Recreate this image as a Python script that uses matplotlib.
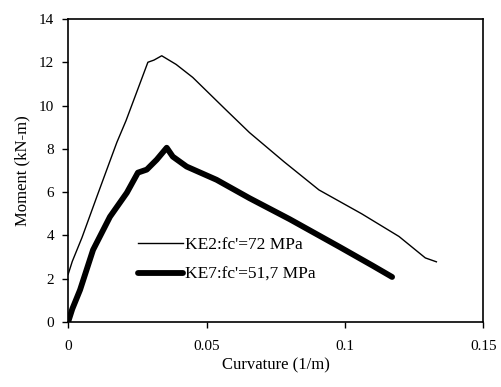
import matplotlib.pyplot as plt

plt.rcParams['font.family'] = ['Liberation Serif', 'DejaVu Serif']

# KE2: fc'=72 MPa (thin line)
ke2_curv = [0.0, 0.0015, 0.0050, 0.0104, 0.0150, 0.0176, 0.0209, 0.0250, 0.0288,
            0.0310, 0.0338, 0.0390, 0.0450, 0.0570, 0.0655, 0.0780, 0.0906,
            0.1060, 0.1195, 0.1290, 0.1330]
ke2_mom = [2.2, 2.8, 3.9, 5.8, 7.4, 8.3, 9.3, 10.7, 12.0,
           12.1, 12.3, 11.9, 11.3, 9.8, 8.75, 7.4, 6.1,
           5.0, 3.95, 2.96, 2.78]

# KE7: fc'=51,7 MPa (thick line)
ke7_curv = [0.0, 0.0015, 0.0043, 0.0090, 0.0151, 0.0212, 0.0252, 0.0284,
            0.0320, 0.0356, 0.0378, 0.0428, 0.0536, 0.0655, 0.0800,
            0.0980, 0.1100, 0.1170]
ke7_mom = [0.0, 0.6, 1.48, 3.33, 4.86, 5.97, 6.9, 7.04,
           7.5, 8.05, 7.64, 7.18, 6.57, 5.72, 4.75,
           3.47, 2.6, 2.08]

x_ticks = [0, 0.05, 0.1, 0.15]
x_labels = ['0', '0.05', '0.1', '0.15']
y_ticks = [0, 2, 4, 6, 8, 10, 12, 14]

fig = plt.figure(figsize=(5.01, 3.87), dpi=100)
ax = fig.add_axes([0.136, 0.168, 0.829, 0.783])

ax.plot(ke2_curv, ke2_mom, color='black', lw=1.0, label="KE2:fc'=72 MPa")
ax.plot(ke7_curv, ke7_mom, color='black', lw=4.2, solid_capstyle='round',
        label="KE7:fc'=51,7 MPa")

ax.set_xlim(0, 0.15)
ax.set_ylim(0, 14)
ax.set_xticks(x_ticks)
ax.set_xticklabels(x_labels)
ax.set_yticks(y_ticks)
ax.tick_params(direction='out', length=4, width=1, labelsize=11)
ax.tick_params(axis='x', pad=9)
ax.tick_params(axis='y', pad=6)
for s in ax.spines.values():
    s.set_linewidth(1.2)

ax.set_xlabel('Curvature (1/m)', fontsize=12, labelpad=3)
ax.set_ylabel('Moment (kN-m)', fontsize=12, labelpad=6)

ax.legend(loc='upper left', bbox_to_anchor=(0.152, 0.305), frameon=False,
          fontsize=12.5, handlelength=2.6, handletextpad=0.1, labelspacing=0.8,
          borderaxespad=0)

fig.savefig('out.png', dpi=100)
